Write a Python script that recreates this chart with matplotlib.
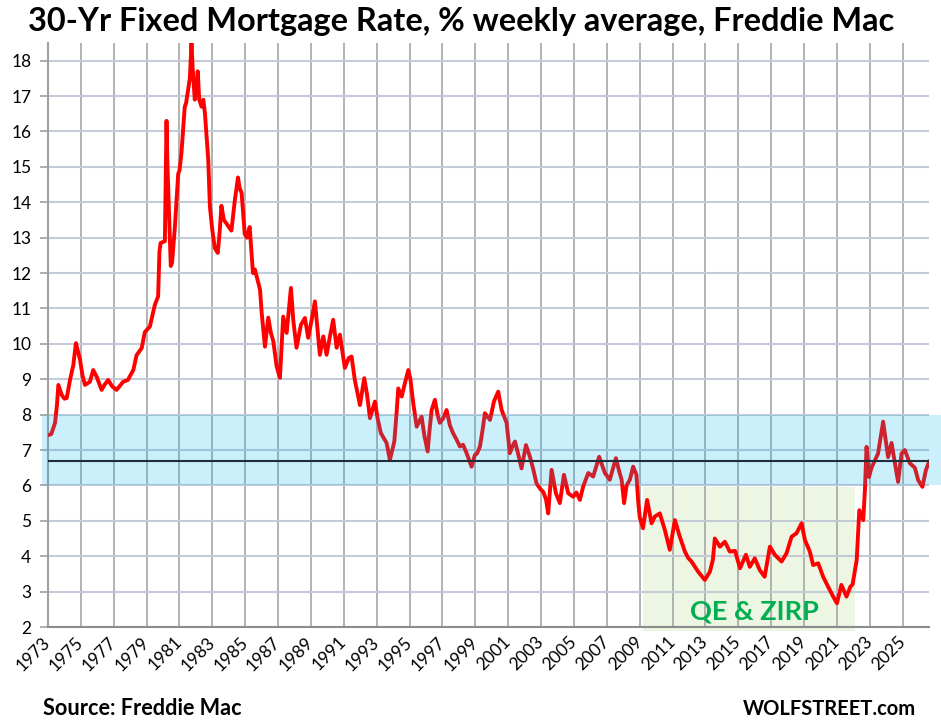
# %% Pakete

import matplotlib
matplotlib.use('Agg')
import matplotlib.pyplot as plt
from matplotlib.patches import Rectangle

plt.rcParams['font.family'] = ['Lato', 'DejaVu Sans']

# %% Daten

years = [
    1973.00, 1973.20, 1973.43, 1973.55, 1973.63, 1973.83, 1974.00, 1974.14, 1974.34, 1974.54,
    1974.70, 1974.95, 1975.10, 1975.25, 1975.55, 1975.75, 1975.96, 1976.26, 1976.45, 1976.66,
    1976.90, 1977.17, 1977.58, 1977.86, 1978.19, 1978.39, 1978.70, 1978.89, 1979.20, 1979.50,
    1979.70, 1979.78, 1979.85, 1980.11, 1980.16, 1980.21, 1980.27, 1980.38, 1980.47, 1980.55,
    1980.72, 1980.92, 1981.00, 1981.12, 1981.32, 1981.40, 1981.53, 1981.63, 1981.73, 1981.80,
    1981.93, 1982.05, 1982.11, 1982.20, 1982.34, 1982.45, 1982.55, 1982.75, 1982.85, 1983.00,
    1983.15, 1983.33, 1983.45, 1983.55, 1983.70, 1983.86, 1984.00, 1984.16, 1984.37, 1984.56,
    1984.66, 1984.78, 1984.97, 1985.10, 1985.27, 1985.47, 1985.59, 1985.70, 1985.90, 1986.00,
    1986.20, 1986.40, 1986.56, 1986.71, 1986.91, 1987.11, 1987.31, 1987.52, 1987.78, 1987.92,
    1988.12, 1988.39, 1988.63, 1988.83, 1989.05, 1989.24, 1989.54, 1989.75, 1989.95, 1990.15,
    1990.35, 1990.56, 1990.76, 1991.06, 1991.30, 1991.47, 1991.67, 1991.98, 1992.24, 1992.40,
    1992.59, 1992.89, 1993.05, 1993.25, 1993.60, 1993.80, 1994.07, 1994.20, 1994.31, 1994.52,
    1994.72, 1994.92, 1995.05, 1995.22, 1995.43, 1995.73, 1995.90, 1996.10, 1996.20, 1996.34,
    1996.54, 1996.70, 1996.84, 1997.05, 1997.25, 1997.45, 1997.65, 1997.85, 1998.06, 1998.25,
    1998.47, 1998.77, 1998.97, 1999.10, 1999.28, 1999.45, 1999.58, 1999.89, 2000.13, 2000.39,
    2000.60, 2000.90, 2001.10, 2001.25, 2001.41, 2001.60, 2001.81, 2002.08, 2002.32, 2002.50,
    2002.72, 2002.95, 2003.13, 2003.30, 2003.43, 2003.64, 2003.90, 2004.14, 2004.39, 2004.65,
    2004.95, 2005.15, 2005.36, 2005.56, 2005.87, 2006.17, 2006.53, 2006.88, 2007.18, 2007.55,
    2007.75, 2007.90, 2008.05, 2008.20, 2008.40, 2008.60, 2008.80, 2008.90, 2009.00, 2009.20,
    2009.45, 2009.72, 2009.92, 2010.22, 2010.53, 2010.83, 2011.14, 2011.44, 2011.75, 2011.95,
    2012.15, 2012.56, 2012.96, 2013.27, 2013.45, 2013.57, 2013.88, 2014.18, 2014.48, 2014.80,
    2015.10, 2015.46, 2015.70, 2016.00, 2016.30, 2016.60, 2016.92, 2017.22, 2017.63, 2017.93,
    2018.24, 2018.54, 2018.85, 2019.05, 2019.35, 2019.55, 2019.86, 2020.16, 2020.46, 2020.77,
    2021.00, 2021.27, 2021.58, 2021.82, 2021.95, 2022.20, 2022.36, 2022.60, 2022.70, 2022.80,
    2022.95, 2023.10, 2023.30, 2023.50, 2023.81, 2024.11, 2024.32, 2024.72, 2024.93, 2025.13,
    2025.43, 2025.74, 2025.94, 2026.20, 2026.41, 2026.61,
]

rate = [
    7.42, 7.45, 7.77, 8.30, 8.84, 8.56, 8.45, 8.47, 8.98, 9.40,
    10.02, 9.55, 9.10, 8.84, 8.93, 9.26, 9.07, 8.70, 8.85, 8.98,
    8.80, 8.70, 8.93, 8.98, 9.26, 9.68, 9.88, 10.33, 10.49, 11.10,
    11.34, 12.60, 12.85, 12.90, 14.50, 16.30, 15.00, 13.50, 12.20, 12.30,
    13.30, 14.80, 14.90, 15.40, 16.70, 16.80, 17.20, 17.50, 18.50, 17.80,
    16.90, 17.30, 17.70, 16.90, 16.70, 16.90, 16.50, 15.20, 13.88, 13.20,
    12.70, 12.57, 13.20, 13.90, 13.50, 13.40, 13.30, 13.20, 14.07, 14.70,
    14.40, 14.26, 13.10, 13.00, 13.30, 12.00, 12.10, 11.90, 11.53, 10.88,
    9.92, 10.74, 10.31, 10.07, 9.36, 9.04, 10.77, 10.31, 11.58, 10.68,
    9.89, 10.54, 10.73, 10.17, 10.70, 11.20, 9.69, 10.21, 9.69, 10.20,
    10.68, 9.89, 10.26, 9.32, 9.60, 9.64, 8.97, 8.27, 9.03, 8.60,
    7.90, 8.37, 7.90, 7.48, 7.20, 6.72, 7.24, 8.00, 8.74, 8.51,
    8.90, 9.26, 9.00, 8.33, 7.66, 7.94, 7.40, 6.96, 7.50, 8.13,
    8.42, 8.00, 7.77, 7.90, 8.13, 7.70, 7.47, 7.30, 7.10, 7.15,
    6.91, 6.53, 6.86, 6.90, 7.10, 7.60, 8.04, 7.85, 8.37, 8.65,
    8.13, 7.77, 6.91, 7.10, 7.24, 6.90, 6.48, 7.14, 6.81, 6.50,
    6.06, 5.90, 5.82, 5.60, 5.21, 6.44, 5.78, 5.50, 6.30, 5.78,
    5.68, 5.80, 5.59, 5.97, 6.35, 6.25, 6.81, 6.35, 6.16, 6.77,
    6.40, 6.16, 5.50, 6.00, 6.16, 6.53, 6.30, 5.59, 5.10, 4.79,
    5.59, 4.93, 5.12, 5.21, 4.74, 4.18, 5.02, 4.55, 4.13, 3.95,
    3.85, 3.56, 3.33, 3.56, 3.90, 4.50, 4.27, 4.41, 4.13, 4.15,
    3.66, 4.04, 3.70, 3.94, 3.61, 3.42, 4.27, 4.04, 3.85, 4.08,
    4.55, 4.65, 4.93, 4.46, 4.13, 3.75, 3.80, 3.42, 3.14, 2.86,
    2.67, 3.19, 2.86, 3.14, 3.20, 3.89, 5.30, 5.02, 5.87, 7.09,
    6.24, 6.50, 6.70, 6.90, 7.80, 6.80, 7.20, 6.10, 6.90, 7.00,
    6.63, 6.50, 6.15, 5.96, 6.43, 6.67,
]

tick_years = list(range(1973, 2026, 2))
y_ticks = list(range(2, 19))

band_low, band_high = 6, 8        # blauer Bereich
ref_level = 6.7                   # horizontale Linie
qe_start, qe_end = 2009.2, 2022.1 # QE & ZIRP Phase

# %% Plot

fig = plt.figure(figsize=(9.41, 7.24), dpi=100)
ax = fig.add_axes([48/941, 1 - 627/724, 881/941, 584/724])

# QE Kasten (hinter allem)
ax.add_patch(Rectangle((qe_start, 1.9), qe_end - qe_start, 5.95 - 1.9,
                       facecolor='#edf6e3', edgecolor='none', zorder=0.2, clip_on=False))

ax.plot(years, rate, color='#ff0000', lw=2.8, zorder=3, solid_joinstyle='round')

# blaues Band liegt ueber der Linie
ax.axhspan(band_low, band_high, xmin=-0.007, xmax=1.02, color='#00b0f0', alpha=0.2,
           lw=0, zorder=4, clip_on=False)
ax.axhline(ref_level, color='#1f2f3a', lw=1.5, zorder=5)

ax.text((qe_start + qe_end) / 2 + 0.3, 2.2, 'QE & ZIRP', color='#00b050', fontsize=19.5,
        fontweight='bold', ha='center', va='baseline', zorder=6)

ax.set_xlim(1973, 2026.6)
ax.set_ylim(2, 18.5)

ax.set_xticks(tick_years)
ax.set_xticklabels([str(y) for y in tick_years], rotation=45, ha='right', va='center',
                   rotation_mode='anchor', fontsize=12.5)
ax.set_yticks(y_ticks)
ax.set_yticklabels([str(v) for v in y_ticks], fontsize=12.5)
ax.tick_params(axis='x', length=0, pad=9)
ax.tick_params(axis='y', length=6, width=1.2, color='#a0a0a0', pad=6)

ax.set_axisbelow(True)
ax.grid(axis='x', color='#a6a6a6', lw=1.2)
ax.grid(axis='y', color='#c4cbd8', lw=1.5)

for side in ['top', 'right']:
    ax.spines[side].set_visible(False)
ax.spines['left'].set_color('#a0a0a0')
ax.spines['left'].set_linewidth(1.5)
ax.spines['bottom'].set_color('#8c8c8c')
ax.spines['bottom'].set_linewidth(1.5)

fig.text(28/941, 1 - 31/724, '30-Yr Fixed Mortgage Rate, % weekly average, Freddie Mac',
         fontsize=23.4, fontweight='bold', ha='left', va='baseline')
fig.text(43/941, 1 - 715/724, 'Source: Freddie Mac', fontsize=15.6, fontweight='bold',
         ha='left', va='baseline')
fig.text(916/941, 1 - 715/724, 'WOLFSTREET.com', fontsize=14.5, fontweight='bold',
         ha='right', va='baseline')

fig.savefig('out.png', dpi=100)
